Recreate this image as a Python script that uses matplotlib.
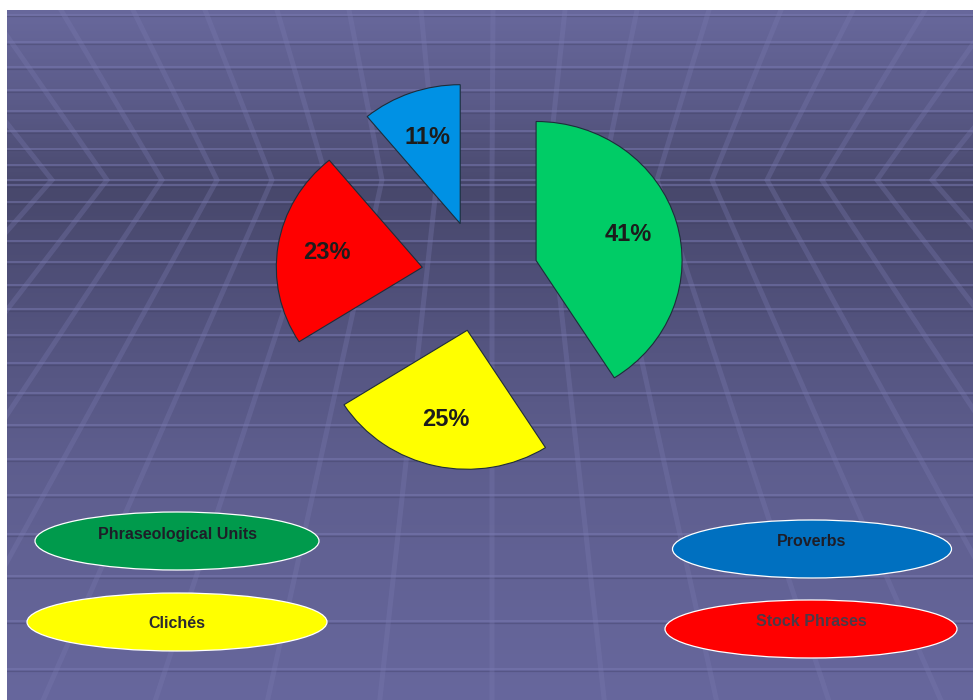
import numpy as np
import matplotlib.pyplot as plt
from matplotlib.patches import Ellipse

plt.rcParams['font.family'] = ['Liberation Sans', 'DejaVu Sans']

# pie data (clockwise from 12 o'clock)
shares = [41, 25, 23, 11]
slice_colors = ['#00cc66', '#ffff00', '#ff0000', '#0091e4']

# legend ovals
categories = ['Phraseological Units', 'Clichés', 'Proverbs', 'Stock Phrases']
category_colors = ['#009a4c', '#ffff00', '#0070c0', '#ff0000']
category_text = ['#1e1e28', '#2a2a30', '#1e1e28', '#4a3a48']

W, H = 973, 700
fig = plt.figure(figsize=(W / 100, H / 100), dpi=100)
fig.patch.set_facecolor('white')

# background panel, in pixel units (y grows downward)
x0, y0 = 7, 10
bg = fig.add_axes([x0 / W, 0, (W - x0) / W, (H - y0) / H])
bg.set_xlim(x0, W)
bg.set_ylim(H, y0)
bg.axis('off')

# vertical colour gradient
grad_y = [10, 100, 190, 280, 450, 700]
grad_c = ['#68689c', '#5b5b89', '#48486c', '#4f4f78', '#5d5d8d', '#67679d']
rgb = np.array([[int(c[i:i + 2], 16) for i in (1, 3, 5)] for c in grad_c]) / 255
yy = np.arange(y0, H)
img = np.stack([np.interp(yy, grad_y, rgb[:, j]) for j in range(3)], axis=-1)[:, None, :]
bg.imshow(img, extent=[x0, W, H, y0], aspect='auto', zorder=0, interpolation='bilinear')

# horizontal grid lines, tighter near the horizon
horizon = 180
rows = [horizon]
y = 185
while y < H:
    rows.append(y)
    y += 17 + 0.07 * (y - horizon)
y = horizon
while y > y0:
    y -= 15 + 0.09 * (horizon - y)
    rows.append(y)
for r in rows:
    bg.axhline(r + 1.8, color='#3c3c60', lw=0.9, alpha=0.35, zorder=1)
    bg.axhline(r, color='#7a7ab2', lw=1.2, alpha=0.6, zorder=1)

# chevron shaped perspective lines
for k in range(-9, 10):
    xs = [493 + 72 * k, 492 + 55 * k, 492 + k * (55 + 0.11 * (H - horizon))]
    bg.plot(xs, [y0, horizon, H], color='#7a7ab0', lw=3.6, alpha=0.32,
            solid_joinstyle='miter', zorder=2)

# legend ovals
oval_xy = [(177, 541), (177, 622), (812, 549), (811, 629)]
oval_size = [(284, 58), (300, 58), (279, 58), (292, 58)]
text_dy = [-6, 2, -7, -7]
for name, fc, tc, (ex, ey), (ew, eh), dy in zip(categories, category_colors, category_text,
                                                 oval_xy, oval_size, text_dy):
    bg.add_patch(Ellipse((ex, ey), ew, eh, facecolor=fc, edgecolor='white', lw=0.9, zorder=5))
    bg.text(ex, ey + dy, name, ha='center', va='center', fontsize=11.5,
            fontweight='bold', color=tc, zorder=6)

# exploded pie
cx, cy, rx, ry = 480, 276, 146, 139
pie_ax = fig.add_axes([(cx - 1.25 * rx) / W, (H - cy - 1.25 * ry) / H,
                       2.5 * rx / W, 2.5 * ry / H])
wedges, texts, pcts = pie_ax.pie(
    shares, colors=slice_colors, startangle=90, counterclock=False,
    explode=[0.4] * len(shares), autopct='%.0f%%', pctdistance=0.66,
    wedgeprops=dict(edgecolor='#1e2d3a', linewidth=0.8),
    textprops=dict(fontsize=17, fontweight='bold', color='#1c1c1c'))
pie_ax.set_aspect('auto')

fig.savefig('out.png', dpi=100)
